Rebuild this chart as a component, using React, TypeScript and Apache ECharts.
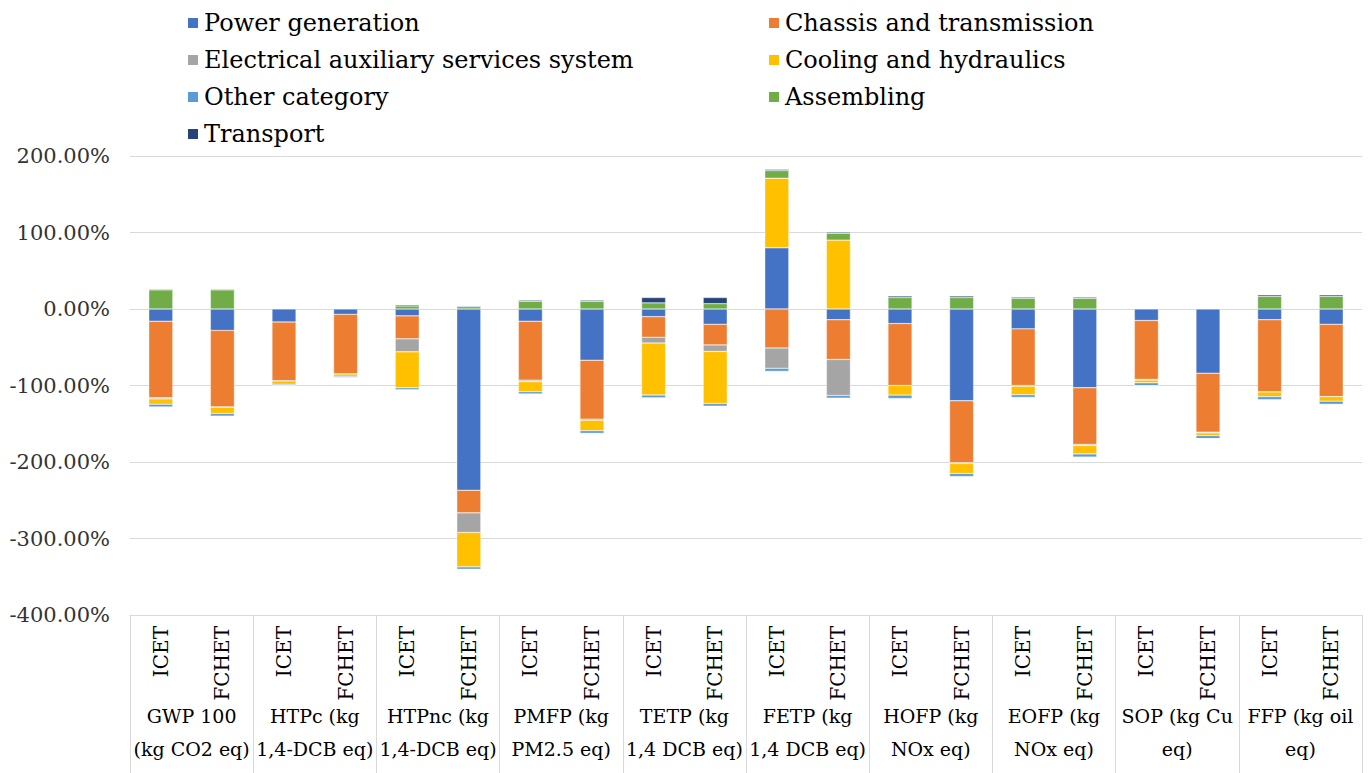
import React, { useEffect, useRef } from "react";
import * as echarts from "echarts";

const groups = [
  "GWP 100\n(kg CO2 eq)",
  "HTPc (kg\n1,4-DCB eq)",
  "HTPnc (kg\n1,4-DCB eq)",
  "PMFP (kg\nPM2.5 eq)",
  "TETP (kg\n1,4 DCB eq)",
  "FETP (kg\n1,4 DCB eq)",
  "HOFP (kg\nNOx eq)",
  "EOFP (kg\nNOx eq)",
  "SOP (kg Cu\neq)",
  "FFP (kg oil\neq)",
];
const vehicles = ["ICET", "FCHET"];
const categories = groups.flatMap(() => vehicles);

const yTicks = { min: -400, max: 200, interval: 100 };

// values in %, order: GWP I, GWP F, HTPc I, HTPc F, HTPnc I, HTPnc F, PMFP I, PMFP F, TETP I, TETP F,
// FETP I, FETP F, HOFP I, HOFP F, EOFP I, EOFP F, SOP I, SOP F, FFP I, FFP F
const powerGeneration = [-16, -28, -17, -7, -9, -237, -16, -67, -10, -20, 80, -14, -19, -120, -26, -103, -15, -84, -14, -20];
const chassisTransmission = [-100, -100, -77, -78, -30, -29.5, -77, -77, -27, -27, -51, -52, -81, -81, -74, -74, -77, -77, -94.5, -94.5];
const electricalAuxiliary = [-1.5, -0.5, 0, 0, -17, -25.6, -2, -1.5, -7.5, -8.5, -26.5, -47, 0, -1, -1, -1.5, -1, -1, 0, 0];
const coolingHydraulics = [-7, -8, -4.5, -3, -47, -45, -13, -13.5, -68, -68, 91, 90, -12.5, -13, -11, -11, -3.5, -3.5, -6, -6];
const otherCategory = [-3.5, -3.5, -2, -2, -2.5, -3, -3, -3.5, -3.5, -3.5, -4, -3.5, -4.5, -4, -3.5, -4, -4, -4, -4, -4];
const assembling = [25, 25, 0, 0, 4, 3, 10, 10, 8, 7, 10, 9, 15, 15, 14, 14, 0, 0, 16.5, 16.5];
const transport = [1, 1, 0, 0, 1.5, 1, 1.5, 1.5, 7, 8, 1.5, 1.5, 2, 2, 1.5, 1.5, 0, 0, 2, 2];

const seriesDefs = [
  { name: "Power generation", data: powerGeneration, color: "#4472C4" },
  { name: "Chassis and transmission", data: chassisTransmission, color: "#ED7D31" },
  { name: "Electrical auxiliary services system", data: electricalAuxiliary, color: "#A5A5A5" },
  { name: "Cooling and hydraulics", data: coolingHydraulics, color: "#FFC000" },
  { name: "Other category", data: otherCategory, color: "#5B9BD5" },
  { name: "Assembling", data: assembling, color: "#70AD47" },
  { name: "Transport", data: transport, color: "#264478" },
];

const leftLegend = ["Power generation", "Electrical auxiliary services system", "Other category", "Transport"];
const rightLegend = ["Chassis and transmission", "Cooling and hydraulics", "Assembling"];

const FONT = "DejaVu Serif";

export default function App() {
  const ref = useRef<HTMLDivElement>(null);
  useEffect(() => {
    if (!ref.current) return;
    const chart = echarts.init(ref.current, null, { renderer: "svg" });
    const legendCommon = {
      orient: "vertical" as const,
      top: 6,
      itemWidth: 12,
      itemHeight: 12,
      itemGap: 13,
      icon: "rect",
      textStyle: { fontFamily: FONT, fontSize: 24, color: "#000", lineHeight: 24 },
    };
    chart.setOption({
      animation: false,
      backgroundColor: "#fff",
      legend: [
        { ...legendCommon, left: 181, data: leftLegend },
        { ...legendCommon, left: 762, data: rightLegend },
      ],
      grid: { left: 130, right: 8, top: 156, bottom: 158, containLabel: false },
      xAxis: [
        {
          type: "category",
          data: categories,
          position: "bottom",
          axisLine: { show: true, onZero: false, lineStyle: { color: "#d9d9d9" } },
          axisTick: { show: false },
          axisLabel: {
            interval: 0,
            rotate: 90,
            margin: 11,
            fontFamily: FONT,
            fontSize: 20,
            color: "#000",
          },
        },
        {
          type: "category",
          data: groups,
          position: "bottom",
          axisLine: { show: false, onZero: false },
          axisTick: { show: true, length: 160, interval: 0, lineStyle: { color: "#d9d9d9" } },
          axisLabel: {
            interval: 0,
            margin: 84,
            fontFamily: FONT,
            fontSize: 19,
            lineHeight: 33,
            color: "#000",
          },
        },
      ],
      yAxis: {
        type: "value",
        min: yTicks.min,
        max: yTicks.max,
        interval: yTicks.interval,
        axisLine: { show: false },
        axisTick: { show: false },
        splitLine: { lineStyle: { color: "#d9d9d9", width: 1 } },
        axisLabel: {
          margin: 20,
          fontFamily: FONT,
          fontSize: 21,
          color: "#333",
          formatter: (v: number) => v.toFixed(2) + "%",
        },
      },
      series: seriesDefs.map((s) => ({
        name: s.name,
        type: "bar",
        stack: "total",
        xAxisIndex: 0,
        barWidth: 24,
        data: s.data,
        itemStyle: { color: s.color, borderColor: "#fff", borderWidth: 0.4 },
      })),
    });
    return () => chart.dispose();
  }, []);
  return (
    <div
      ref={ref}
      style={{ position: "absolute", left: 0, top: 0, width: 1370, height: 773 }}
    />
  );
}
